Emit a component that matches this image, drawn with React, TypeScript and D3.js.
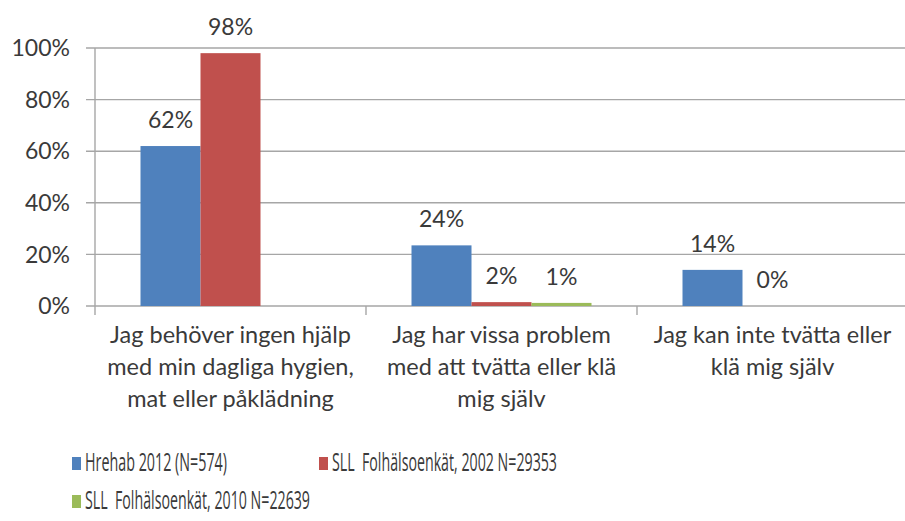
import React from "react";
import { scaleBand, scaleLinear } from "d3";

// chart data
const categories = [
  ["Jag behöver ingen hjälp", "med min dagliga hygien,", "mat eller påklädning"],
  ["Jag har vissa problem", "med att tvätta eller klä", "mig själv"],
  ["Jag kan inte tvätta eller", "klä mig själv"],
];
const seriesNames = [
  "Hrehab 2012 (N=574)",
  "SLL  Folhälsoenkät, 2002 N=29353",
  "SLL  Folhälsoenkät, 2010 N=22639",
];
const hrehab = [62, 23.5, 14];
const sll2002 = [98, 1.5, 0];
const sll2010 = [null, 1.2, null];
const yTicks = [0, 20, 40, 60, 80, 100];

const colors = ["#4f81bd", "#c0504d", "#9bbb59"];
const textColor = "#3a3a3a";
const gridColor = "#a6a6a6";
const font = "Lato, 'Open Sans', sans-serif";

const margin = { top: 48, left: 95, right: 908, bottom: 306 };

export default function App() {
  const allSeries = [hrehab, sll2002, sll2010];
  const catIdx = categories.map((_, i) => i);

  const x = scaleBand<number>().domain(catIdx).range([margin.left, margin.right]);
  const gap = (x.bandwidth() - 180) / 2;
  const xs = scaleBand<number>()
    .domain([0, 1, 2])
    .range([gap, x.bandwidth() - gap]);
  const y = scaleLinear().domain([0, 100]).range([margin.bottom, margin.top]);

  return (
    <svg
      width={905}
      height={521}
      style={{ position: "absolute", left: 0, top: 0, background: "white" }}
      fontFamily={font}
    >
      {/* gridlines + y ticks */}
      {yTicks.map((t) => (
        <g key={t}>
          <line x1={86} x2={margin.right} y1={y(t)} y2={y(t)} stroke={gridColor} strokeWidth={1.4} />
          <text
            x={70}
            y={y(t)}
            dy="0.36em"
            textAnchor="end"
            fontSize={23}
            fill={textColor}
          >
            {t}%
          </text>
        </g>
      ))}
      {/* y axis line */}
      <line x1={margin.left} x2={margin.left} y1={margin.top} y2={315} stroke={gridColor} strokeWidth={1.4} />
      {/* x category ticks */}
      {catIdx.map((i) => (
        <line
          key={i}
          x1={x(i)! + x.bandwidth()}
          x2={x(i)! + x.bandwidth()}
          y1={margin.bottom}
          y2={315}
          stroke={gridColor}
          strokeWidth={1.4}
        />
      ))}

      {/* bars */}
      {allSeries.map((s, si) =>
        s.map((v, ci) => {
          if (v === null) return null;
          const bx = x(ci)! + xs(si)!;
          return (
            <g key={si + "-" + ci}>
              <rect
                x={bx}
                y={y(v)}
                width={xs.bandwidth()}
                height={y(0) - y(v)}
                fill={colors[si]}
              />
              <text
                x={bx + xs.bandwidth() / 2}
                y={y(v) - 18}
                textAnchor="middle"
                fontSize={23}
                fill={textColor}
              >
                {Math.round(v)}%
              </text>
            </g>
          );
        })
      )}

      {/* category labels */}
      {categories.map((lines, i) => (
        <text
          key={i}
          x={x(i)! + x.bandwidth() / 2}
          y={343}
          textAnchor="middle"
          fontSize={23.5}
          fill={textColor}
        >
          {lines.map((l, j) => (
            <tspan key={j} x={x(i)! + x.bandwidth() / 2} dy={j === 0 ? 0 : 32}>
              {l}
            </tspan>
          ))}
        </text>
      ))}

      <Legend />
    </svg>
  );
}

function Legend() {
  const items = [
    { x: 72, y: 457, w: 142 },
    { x: 319, y: 457, w: 225 },
    { x: 72, y: 495, w: 225 },
  ];
  return (
    <g>
      {items.map((it, i) => (
        <g key={i}>
          <rect x={it.x} y={it.y} width={9} height={13} fill={colors[i]} />
          <text
            x={it.x + 13}
            y={it.y + 13.5}
            fontSize={26}
            fontFamily="'Liberation Sans Narrow', 'Open Sans', sans-serif"
            fill={textColor}
            textLength={it.w}
            lengthAdjust="spacingAndGlyphs"
            style={{ whiteSpace: "pre" }}
          >
            {seriesNames[i]}
          </text>
        </g>
      ))}
    </g>
  );
}
